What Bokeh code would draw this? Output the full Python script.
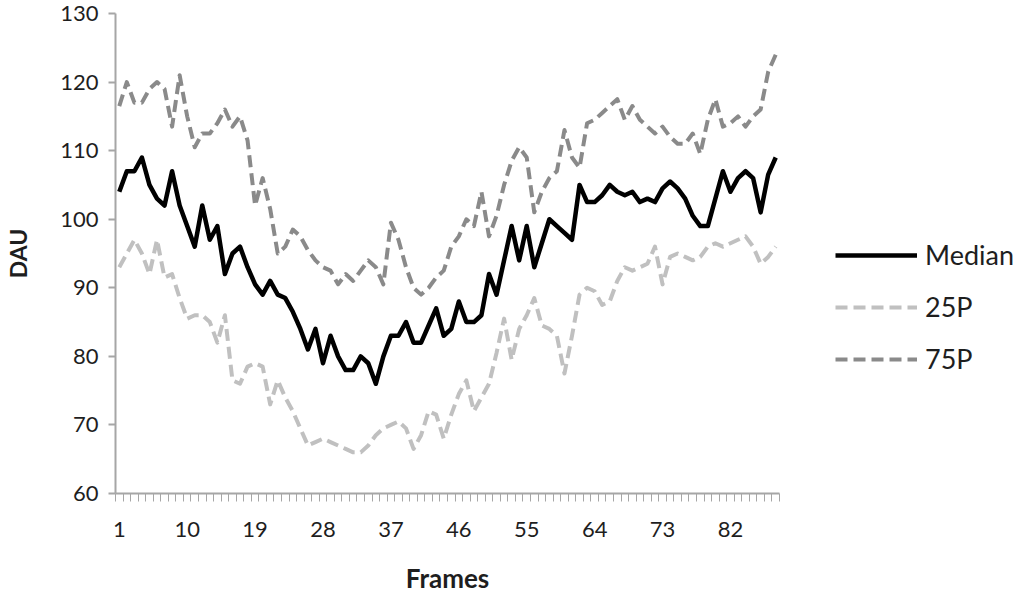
from bokeh.plotting import figure
from bokeh.models import Range1d, FixedTicker, Legend, LegendItem
from bokeh.embed import file_html
from bokeh.resources import INLINE

frames = list(range(1, 89))

median = [104, 107, 107, 109, 105, 103, 102, 107, 102, 99,
          96, 102, 97, 99, 92, 95, 96, 93, 90.5, 89,
          91, 89, 88.5, 86.5, 84, 81, 84, 79, 83, 80,
          78, 78, 80, 79, 76, 80, 83, 83, 85, 82,
          82, 84.5, 87, 83, 84, 88, 85, 85, 86, 92,
          89, 94, 99, 94, 99, 93, 96.5, 100, 99, 98,
          97, 105, 102.5, 102.5, 103.5, 105, 104, 103.5, 104, 102.5,
          103, 102.5, 104.5, 105.5, 104.5, 103, 100.5, 99, 99, 103,
          107, 104, 106, 107, 106, 101, 106.5, 109]

p25 = [93, 95, 97, 95, 92, 97, 91.5, 92, 88.5, 85.5,
       86, 86, 85, 82, 86, 76.5, 76, 78.5, 79, 78.5,
       73, 76.5, 74, 72, 69.5, 67, 67.5, 68, 67.5, 67,
       66.5, 66, 66, 67, 68.5, 69.5, 70, 70.5, 69.5, 66.5,
       68.5, 72, 71.5, 68, 71.5, 74.5, 76.5, 72, 74, 76,
       80.5, 85.5, 79.5, 84, 86, 88.5, 84.5, 84, 83, 77.5,
       83, 89, 90, 89.5, 87.5, 88, 91, 93, 92.5, 93,
       93.5, 96, 90.5, 94.5, 95, 94.5, 94, 94.5, 96, 96.5,
       96, 96.5, 97, 97.5, 96, 93.5, 94.5, 96]

p75 = [116.5, 120, 117, 117, 119, 120, 119, 113.5, 121, 115,
       110.5, 112.5, 112.5, 114, 116, 113.5, 115, 111.5, 102, 106,
       101.5, 95, 96, 98.5, 97.5, 95.5, 94, 93, 92.5, 90.5,
       92, 91, 92.5, 94, 93, 90.5, 99.5, 97, 93, 90,
       89, 90, 91.5, 92.5, 96, 97.5, 100, 99, 104, 97.5,
       100.5, 105, 108.5, 110.5, 109, 101, 104, 106, 107, 113,
       109, 107.5, 114, 114.5, 115.5, 116.5, 117.5, 114.5, 116.5, 114.5,
       113.5, 112.5, 113.5, 112, 111, 111, 112.5, 109.5, 114.5, 117.5,
       113.5, 114, 115, 113.5, 115, 116, 121.5, 124]

y_ticks = [60, 70, 80, 90, 100, 110, 120, 130]
x_label_ticks = [1, 10, 19, 28, 37, 46, 55, 64, 73, 82]
series_names = ["Median", "25P", "75P"]

FONT = "Lato"
AXIS_GRAY = "#a6a6a6"
TEXT = "#1e1e1e"

p = figure(frame_width=664, frame_height=480, output_backend="svg", toolbar_location=None,
           x_range=Range1d(0.5, 88.5), y_range=Range1d(60, 130),
           min_border_left=115, min_border_right=0, min_border_top=13, min_border_bottom=94)
p.outline_line_color = None
p.xgrid.visible = False
p.ygrid.visible = False
p.background_fill_color = "white"

r75 = p.line(frames, p75, line_color="#8a8a8a", line_width=4, line_dash="12 6", line_join="round")
r25 = p.line(frames, p25, line_color="#c0c0c0", line_width=4, line_dash="12 6", line_join="round")
rmed = p.line(frames, median, line_color="black", line_width=4.5, line_join="round")

# x axis
xa = p.xaxis[0]
xa.ticker = FixedTicker(ticks=x_label_ticks, minor_ticks=[i + 0.5 for i in range(0, 89)])
xa.major_tick_line_color = None
xa.major_tick_out = 0
xa.major_tick_in = 0
xa.minor_tick_out = 8
xa.minor_tick_in = 0
xa.minor_tick_line_color = AXIS_GRAY
xa.minor_tick_line_width = 1
xa.axis_line_color = AXIS_GRAY
xa.axis_line_width = 2
xa.major_label_standoff = 20
xa.major_label_text_font = FONT
xa.major_label_text_font_size = "22px"
xa.major_label_text_color = TEXT
xa.axis_label = "Frames"
xa.axis_label_text_font = FONT
xa.axis_label_text_font_style = "bold"
xa.axis_label_text_font_size = "26px"
xa.axis_label_text_color = TEXT
xa.axis_label_standoff = 22

# y axis
ya = p.yaxis[0]
ya.ticker = FixedTicker(ticks=y_ticks)
ya.major_tick_out = 7
ya.major_tick_in = 0
ya.major_tick_line_color = AXIS_GRAY
ya.major_tick_line_width = 2
ya.minor_tick_line_color = None
ya.axis_line_color = AXIS_GRAY
ya.axis_line_width = 2
ya.major_label_standoff = 10
ya.major_label_text_font = FONT
ya.major_label_text_font_size = "22px"
ya.major_label_text_color = TEXT
ya.axis_label = "DAU"
ya.axis_label_text_font = FONT
ya.axis_label_text_font_style = "bold"
ya.axis_label_text_font_size = "23px"
ya.axis_label_text_color = TEXT
ya.axis_label_standoff = 25

legend = Legend(items=[LegendItem(label=series_names[0], renderers=[rmed]),
                       LegendItem(label=series_names[1], renderers=[r25]),
                       LegendItem(label=series_names[2], renderers=[r75])],
                location=(56, 118))
legend.glyph_width = 82
legend.glyph_height = 30
legend.label_height = 30
legend.label_standoff = 8
legend.spacing = 19
legend.padding = 0
legend.margin = 0
legend.border_line_color = None
legend.background_fill_alpha = 0
legend.label_text_font = FONT
legend.label_text_font_size = "27px"
legend.label_text_color = TEXT
p.add_layout(legend, "right")

open("out.html", "w").write(file_html(p, INLINE))
